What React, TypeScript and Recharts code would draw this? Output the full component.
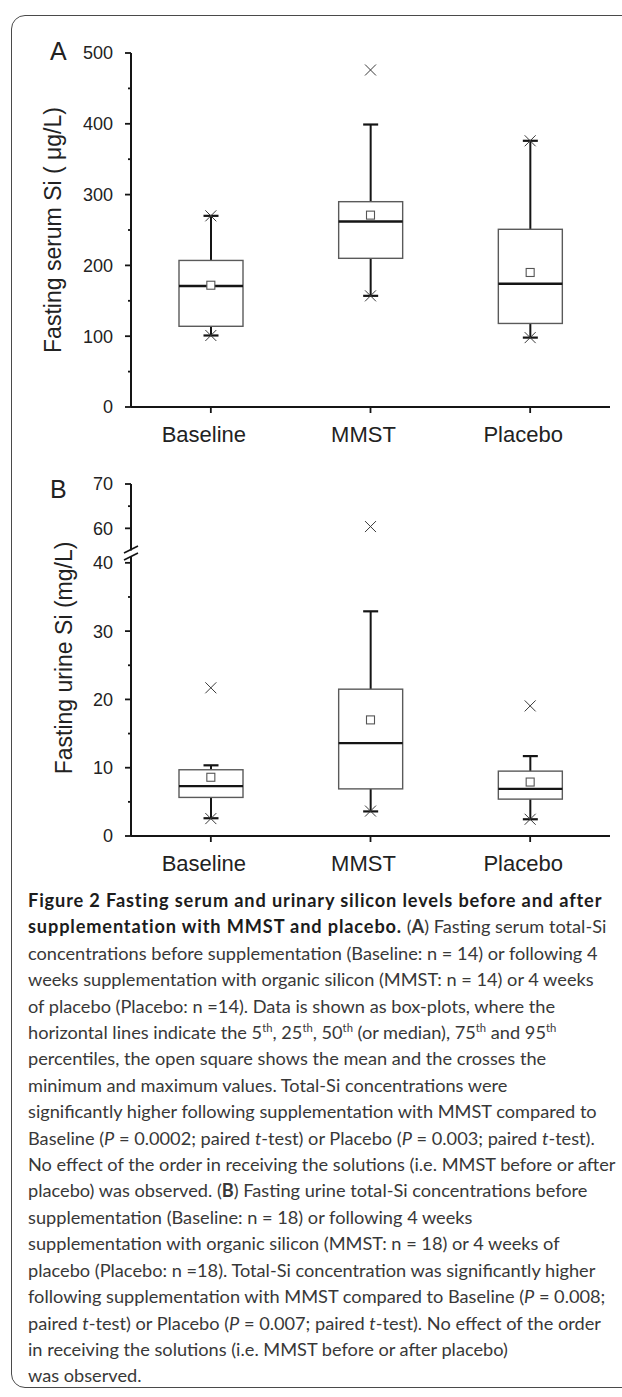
import React from "react";
import { ComposedChart, Bar, Scatter, XAxis, YAxis, Label } from "recharts";

// ----- data -----

const GROUPS = ["Baseline", "MMST", "Placebo"];

// panel A: fasting serum Si (µg/L)
const SERUM_MIN = [101, 157, 98];
const SERUM_P5 = [101, 157, 98];
const SERUM_Q1 = [114, 210, 118];
const SERUM_MEDIAN = [171, 262, 174];
const SERUM_MEAN = [172, 271, 190];
const SERUM_Q3 = [207, 290, 251];
const SERUM_P95 = [270, 399, 376];
const SERUM_MAX = [270, 476, 376];
const SERUM_TICKS = [0, 50, 100, 150, 200, 250, 300, 350, 400, 450, 500];

// panel B: fasting urine Si (mg/L), broken axis
const URINE_MIN = [2.55, 3.65, 2.45];
const URINE_P5 = [2.6, 3.6, 2.45];
const URINE_Q1 = [5.65, 6.9, 5.4];
const URINE_MEDIAN = [7.3, 13.6, 6.9];
const URINE_MEAN = [8.6, 17.0, 7.9];
const URINE_Q3 = [9.7, 21.5, 9.5];
const URINE_P95 = [10.35, 32.9, 11.7];
const URINE_MAX = [21.7, 60.4, 19.05];
const URINE_LOW_TICKS = [0, 5, 10, 15, 20, 25, 30, 35, 40];
const URINE_HIGH_TICKS = [60, 65, 70];
const URINE_LOW_DOMAIN = [0, 41];
const URINE_HIGH_DOMAIN = [55, 70];

// ----- style -----

const INK = "#151515";
const BOX_STROKE = "#5a5a5a";
const TEXT = "#222";
const AXIS_FONT = "'Liberation Sans', Arial, Helvetica, sans-serif";
const TICK_SIZE = 6;
const TICK_MARGIN = 12;

type Row = {
  name: string;
  min: number | null;
  p5: number;
  q1: number;
  median: number;
  mean: number;
  q3: number;
  p95: number;
  max: number | null;
};

function buildRows(
  mins: (number | null)[],
  p5: number[],
  q1: number[],
  med: number[],
  mean: number[],
  q3: number[],
  p95: number[],
  maxs: (number | null)[]
): Row[] {
  return GROUPS.map((name, i) => ({
    name,
    min: mins[i],
    p5: p5[i],
    q1: q1[i],
    median: med[i],
    mean: mean[i],
    q3: q3[i],
    p95: p95[i],
    max: maxs[i],
  }));
}

const serumRows = buildRows(SERUM_MIN, SERUM_P5, SERUM_Q1, SERUM_MEDIAN, SERUM_MEAN, SERUM_Q3, SERUM_P95, SERUM_MAX);

const inLow = (v: number) => (v <= URINE_LOW_DOMAIN[1] ? v : null);
const inHigh = (v: number) => (v >= URINE_HIGH_DOMAIN[0] ? v : null);

const urineLowRows = buildRows(
  URINE_MIN.map(inLow),
  URINE_P5,
  URINE_Q1,
  URINE_MEDIAN,
  URINE_MEAN,
  URINE_Q3,
  URINE_P95,
  URINE_MAX.map(inLow)
);
const urineHighRows = buildRows(
  URINE_MIN.map(inHigh),
  URINE_P5,
  URINE_Q1,
  URINE_MEDIAN,
  URINE_MEAN,
  URINE_Q3,
  URINE_P95,
  URINE_MAX.map(inHigh)
);

// ----- shapes -----

// range bar [p5, p95]; everything else is placed on the same linear scale
function BoxShape(props: any) {
  const { x, y, width, height, payload } = props;
  if (!payload || !isFinite(y) || !isFinite(height)) return <g />;
  const hi = payload.p95;
  const lo = payload.p5;
  const yHi = y;
  const yLo = y + height;
  const px = (v: number) => yHi + ((hi - v) / (hi - lo)) * (yLo - yHi);
  const cx = x + width / 2;
  const capHalf = 7.5;
  const top = px(payload.q3);
  const bottom = px(payload.q1);
  return (
    <g>
      <line x1={cx} x2={cx} y1={px(hi)} y2={top} stroke={INK} strokeWidth={2} />
      <line x1={cx} x2={cx} y1={bottom} y2={px(lo)} stroke={INK} strokeWidth={2} />
      <line x1={cx - capHalf} x2={cx + capHalf} y1={px(hi)} y2={px(hi)} stroke={INK} strokeWidth={2.2} />
      <line x1={cx - capHalf} x2={cx + capHalf} y1={px(lo)} y2={px(lo)} stroke={INK} strokeWidth={2.2} />
      <rect x={x} y={top} width={width} height={bottom - top} fill="#fff" stroke={BOX_STROKE} strokeWidth={1.4} />
      <line x1={x} x2={x + width} y1={px(payload.median)} y2={px(payload.median)} stroke={INK} strokeWidth={2.4} />
    </g>
  );
}

function makeCross(key: "min" | "max") {
  return (props: any) => {
    const { cx, cy, payload } = props;
    if (!payload || payload[key] == null || !isFinite(cx) || !isFinite(cy)) return <g />;
    const s = 5.5;
    return (
      <g stroke="#3a3a3a" strokeWidth={1}>
        <line x1={cx - s} y1={cy - s} x2={cx + s} y2={cy + s} />
        <line x1={cx - s} y1={cy + s} x2={cx + s} y2={cy - s} />
      </g>
    );
  };
}
const MinCross = makeCross("min");
const MaxCross = makeCross("max");

function MeanShape(props: any) {
  const { cx, cy } = props;
  if (!isFinite(cx) || !isFinite(cy)) return <g />;
  const s = 4;
  return <rect x={cx - s} y={cy - s} width={2 * s} height={2 * s} fill="#fff" stroke="#555" strokeWidth={1.1} />;
}

function makeYTick(step: number) {
  return (props: any) => {
    const { x, y, payload } = props;
    const axisX = x + TICK_SIZE + TICK_MARGIN;
    const major = Math.abs(payload.value / step - Math.round(payload.value / step)) < 1e-6;
    return (
      <g>
        <line x1={axisX - (major ? TICK_SIZE : 3)} x2={axisX} y1={y} y2={y} stroke={INK} strokeWidth={1.8} />
        {major && (
          <text x={x} y={y} dy="0.36em" textAnchor="end" fontSize={18} fill={TEXT} fontFamily={AXIS_FONT}>
            {payload.value}
          </text>
        )}
      </g>
    );
  };
}

// category labels sit a little left of their tick in the original
function XTick(props: any) {
  const { x, y, payload } = props;
  return (
    <text x={x - 7} y={y} dy="0.71em" textAnchor="middle" fontSize={22} fill={TEXT} fontFamily={AXIS_FONT}>
      {payload.value}
    </text>
  );
}

function axisTitle(text: string, cx: number, dyShift: number) {
  return (props: any) => {
    const vb = props.viewBox;
    const cy = vb.y + vb.height / 2 + dyShift;
    return (
      <text
        x={cx}
        y={cy}
        transform={`rotate(-90, ${cx}, ${cy})`}
        textAnchor="middle"
        dy="0.36em"
        fontSize={23}
        fill={TEXT}
        fontFamily={AXIS_FONT}
      >
        {text}
      </text>
    );
  };
}

const X_AXIS_PROPS = {
  dataKey: "name",
  tickSize: TICK_SIZE,
  tickMargin: 13,
  height: 60,
  axisLine: { stroke: INK, strokeWidth: 2 },
  tickLine: { stroke: INK, strokeWidth: 1.8 },
  tick: XTick,
  interval: 0 as const,
};

const Y_AXIS_BASE = {
  type: "number" as const,
  width: 131,
  tickSize: TICK_SIZE,
  tickMargin: TICK_MARGIN,
  tickLine: false,
  interval: 0 as const,
  allowDataOverflow: true,
  axisLine: { stroke: INK, strokeWidth: 2 },
};

// ----- panels -----

function SerumPanel() {
  return (
    <ComposedChart width={622} height={467} data={serumRows} margin={{ top: 53, right: 12, bottom: 0, left: 0 }}>
      <XAxis {...X_AXIS_PROPS} />
      <YAxis {...Y_AXIS_BASE} domain={[0, 500]} ticks={SERUM_TICKS} tick={makeYTick(100)}>
        <Label content={axisTitle("Fasting serum Si ( \u03bcg/L)", 53, 0)} />
      </YAxis>
      <Bar dataKey={(d: Row) => [d.p5, d.p95]} barSize={64} shape={BoxShape} isAnimationActive={false} />
      <Scatter dataKey="mean" shape={MeanShape} isAnimationActive={false} />
      <Scatter dataKey="min" shape={MinCross} isAnimationActive={false} />
      <Scatter dataKey="max" shape={MaxCross} isAnimationActive={false} />
    </ComposedChart>
  );
}

function UrineHighPanel() {
  return (
    <ComposedChart width={622} height={90} data={urineHighRows} margin={{ top: 14, right: 12, bottom: 9.5, left: 0 }}>
      <XAxis dataKey="name" hide />
      <YAxis {...Y_AXIS_BASE} domain={URINE_HIGH_DOMAIN} ticks={URINE_HIGH_TICKS} tick={makeYTick(10)} />
      <Scatter dataKey="max" shape={MaxCross} isAnimationActive={false} />
    </ComposedChart>
  );
}

function UrineLowPanel() {
  return (
    <ComposedChart width={622} height={356} data={urineLowRows} margin={{ top: 16, right: 12, bottom: 0, left: 0 }}>
      <XAxis {...X_AXIS_PROPS} />
      <YAxis {...Y_AXIS_BASE} domain={URINE_LOW_DOMAIN} ticks={URINE_LOW_TICKS} tick={makeYTick(10)}>
        <Label content={axisTitle("Fasting urine Si (mg/L)", 64, -38)} />
      </YAxis>
      <Bar dataKey={(d: Row) => [d.p5, d.p95]} barSize={64} shape={BoxShape} isAnimationActive={false} />
      <Scatter dataKey="mean" shape={MeanShape} isAnimationActive={false} />
      <Scatter dataKey="min" shape={MinCross} isAnimationActive={false} />
      <Scatter dataKey="max" shape={MaxCross} isAnimationActive={false} />
    </ComposedChart>
  );
}

// ----- caption -----

const CAPTION_FONT = "Lato, 'Open Sans', sans-serif";
const TITLE_STYLE: React.CSSProperties = { fontWeight: 700, letterSpacing: "0.85px", color: "#1c1c1c" };
const sup = (t: string) => (
  <sup style={{ fontSize: "0.62em", verticalAlign: "0.62em", lineHeight: 0 }}>{t}</sup>
);
const P = <i>P</i>;
const T = <i>t</i>;

const CAPTION_LINES: React.ReactNode[] = [
  <span style={TITLE_STYLE}>Figure 2 Fasting serum and urinary silicon levels before and after</span>,
  <>
    <span style={TITLE_STYLE}>supplementation with MMST and placebo.</span> (<b>A</b>) Fasting serum total-Si
  </>,
  "concentrations before supplementation (Baseline: n = 14) or following 4",
  "weeks supplementation with organic silicon (MMST: n = 14) or 4 weeks",
  "of placebo (Placebo: n =14). Data is shown as box-plots, where the",
  <>
    horizontal lines indicate the 5{sup("th")}, 25{sup("th")}, 50{sup("th")} (or median), 75{sup("th")} and 95
    {sup("th")}
  </>,
  "percentiles, the open square shows the mean and the crosses the",
  "minimum and maximum values. Total-Si concentrations were",
  "significantly higher following supplementation with MMST compared to",
  <>
    Baseline ({P} = 0.0002; paired {T}-test) or Placebo ({P} = 0.003; paired {T}-test).
  </>,
  "No effect of the order in receiving the solutions (i.e. MMST before or after",
  <>
    placebo) was observed. (<b>B</b>) Fasting urine total-Si concentrations before
  </>,
  "supplementation (Baseline: n = 18) or following 4 weeks",
  "supplementation with organic silicon (MMST: n = 18) or 4 weeks of",
  "placebo (Placebo: n =18). Total-Si concentration was significantly higher",
  <>
    following supplementation with MMST compared to Baseline ({P} = 0.008;
  </>,
  <>
    paired {T}-test) or Placebo ({P} = 0.007; paired {T}-test). No effect of the order
  </>,
  "in receiving the solutions (i.e. MMST before or after placebo)",
  "was observed.",
];

function Caption() {
  return (
    <div
      style={{
        position: "absolute",
        left: 28,
        top: 887,
        fontFamily: CAPTION_FONT,
        fontSize: 18.2,
        lineHeight: "26.4px",
        color: "#383838",
      }}
    >
      {CAPTION_LINES.map((line, i) => (
        <div key={i} style={{ whiteSpace: "nowrap" }}>
          {line}
        </div>
      ))}
    </div>
  );
}

export default function App() {
  return (
    <div
      style={{
        position: "absolute",
        left: 0,
        top: 0,
        width: 622,
        height: 1397,
        overflow: "hidden",
        background: "#fff",
      }}
    >
      {/* rounded figure frame, open to the right edge */}
      <div
        style={{
          position: "absolute",
          left: 11,
          top: 15,
          width: 650,
          height: 1373,
          border: "1.5px solid #4a4a4a",
          borderRadius: 14,
          boxSizing: "border-box",
        }}
      />

      <div style={{ position: "absolute", left: 0, top: 0 }}>
        <SerumPanel />
      </div>
      <div style={{ position: "absolute", left: 0, top: 470 }}>
        <UrineHighPanel />
      </div>
      <div style={{ position: "absolute", left: 0, top: 540 }}>
        <UrineLowPanel />
      </div>

      {/* panel letters and axis break */}
      <svg width={622} height={900} style={{ position: "absolute", left: 0, top: 0, pointerEvents: "none" }}>
        <text x={50} y={60} fontSize={25} fill={TEXT} fontFamily={AXIS_FONT}>
          A
        </text>
        <text x={50} y={498} fontSize={25} fill={TEXT} fontFamily={AXIS_FONT}>
          B
        </text>
        <rect x={124} y={551} width={14} height={5} fill="#fff" />
        <line x1={124} y1={553} x2={138} y2={546} stroke={INK} strokeWidth={1.6} />
        <line x1={124} y1={560} x2={138} y2={553} stroke={INK} strokeWidth={1.6} />
      </svg>

      <Caption />
    </div>
  );
}
